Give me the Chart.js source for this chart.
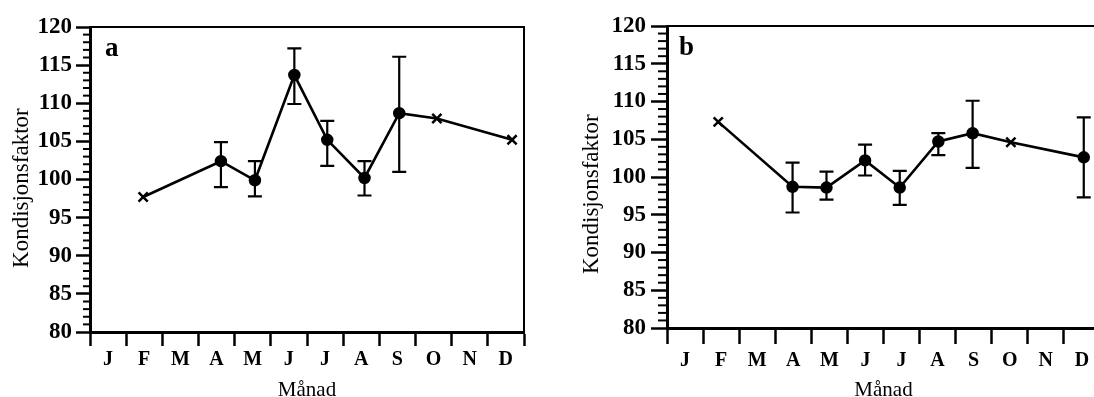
<!DOCTYPE html>
<html>
<head>
<meta charset="utf-8">
<script src="https://cdn.jsdelivr.net/npm/chart.js@4.4.0/dist/chart.umd.min.js"></script>
<style>
  html, body { margin: 0; padding: 0; background: #fff; overflow: hidden; width: 1094px; height: 397px; }
  canvas { position: absolute; top: 0; }
  #chartA { left: 0; }
  #chartB { left: 547px; }
</style>
</head>
<body>
<canvas id="chartA" width="547" height="410"></canvas>
<canvas id="chartB" width="600" height="410"></canvas>
<script>
// month letters on the x axis (tick i sits at start of month i)
var monthLabels = ['J', 'F', 'M', 'A', 'M', 'J', 'J', 'A', 'S', 'O', 'N', 'D'];
var yMin = 80, yMax = 120, yStep = 5;

// panel a: sampling time (in months from 1 Jan), mean, error bar limits
var timeA = [1.47, 3.62, 4.56, 5.65, 6.56, 7.59, 8.55, 9.59, 11.67];
var valuesA = [97.7, 102.4, 99.9, 113.7, 105.2, 100.2, 108.7, 108.0, 105.2];
var highA = [null, 104.9, 102.4, 117.2, 107.7, 102.4, 116.1, null, null];
var lowA = [null, 99.0, 97.8, 109.9, 101.8, 97.9, 101.0, null, null];
var markersA = ['x', 'o', 'o', 'o', 'o', 'o', 'o', 'x', 'x'];

// panel b
var timeB = [1.42, 3.48, 4.42, 5.49, 6.45, 7.52, 8.47, 9.53, 11.55];
var valuesB = [107.3, 98.7, 98.6, 102.2, 98.6, 104.7, 105.8, 104.6, 102.6];
var highB = [null, 101.9, 100.7, 104.3, 100.8, 105.8, 110.1, null, 107.9];
var lowB = [null, 95.3, 97.0, 100.2, 96.3, 102.9, 101.2, null, 97.3];
var markersB = ['x', 'o', 'o', 'o', 'o', 'o', 'o', 'x', 'o'];

var serif = '"Liberation Serif", "Times New Roman", serif';

function buildChart(canvasId, letter, time, values, high, low, markers, g) {

    var panelPlugin = {
        id: 'panel_' + canvasId,
        afterDatasetsDraw: function (chart) {
            var ctx = chart.ctx;
            var xs = chart.scales.x, ys = chart.scales.y;
            var area = chart.chartArea;
            ctx.save();
            ctx.strokeStyle = '#000';
            ctx.lineCap = 'butt';

            // error bars
            ctx.lineWidth = 2.2;
            for (var i = 0; i < time.length; i++) {
                if (high[i] == null) continue;
                var px = xs.getPixelForValue(time[i]);
                var pTop = ys.getPixelForValue(high[i]);
                var pBot = ys.getPixelForValue(low[i]);
                ctx.beginPath();
                ctx.moveTo(px, pTop); ctx.lineTo(px, pBot);
                ctx.moveTo(px - 7, pTop); ctx.lineTo(px + 7, pTop);
                ctx.moveTo(px - 7, pBot); ctx.lineTo(px + 7, pBot);
                ctx.stroke();
            }

            // minor ticks every unit on the y axis
            ctx.lineWidth = 2;
            for (var v = yMin + 1; v < yMax; v++) {
                if (v % yStep === 0) continue;
                var py = ys.getPixelForValue(v);
                ctx.beginPath();
                ctx.moveTo(area.left - g.minorLen, py);
                ctx.lineTo(area.left, py);
                ctx.stroke();
            }

            // frame top and right
            ctx.lineWidth = 2;
            ctx.beginPath();
            ctx.moveTo(area.left, area.top);
            ctx.lineTo(area.right, area.top);
            ctx.lineTo(area.right, area.bottom);
            ctx.stroke();

            // panel letter
            ctx.fillStyle = '#000';
            ctx.font = 'bold 27px ' + serif;
            ctx.textAlign = 'left';
            ctx.textBaseline = 'alphabetic';
            ctx.fillText(letter, area.left + g.letterDx, area.top + 29);
            ctx.restore();
        }
    };

    var points = time.map(function (t, i) { return { x: t, y: values[i] }; });

    return new Chart(document.getElementById(canvasId).getContext('2d'), {
        type: 'line',
        data: {
            datasets: [{
                data: points,
                borderColor: '#000',
                borderWidth: 2.6,
                tension: 0,
                pointStyle: markers.map(function (m) { return m === 'x' ? 'crossRot' : 'circle'; }),
                pointRadius: markers.map(function (m) { return m === 'x' ? 6.5 : 5; }),
                pointBorderWidth: 2.5,
                pointBackgroundColor: '#000',
                pointBorderColor: '#000'
            }]
        },
        options: {
            responsive: false,
            animation: false,
            events: [],
            layout: { padding: { top: g.padTop, right: g.padRight, left: 0, bottom: 0 } },
            plugins: { legend: { display: false }, tooltip: { enabled: false } },
            scales: {
                x: {
                    type: 'linear',
                    min: 0,
                    max: 12,
                    afterFit: function (s) { s.height = g.xHeight; },
                    border: { display: true, color: '#000', width: 3 },
                    grid: { drawOnChartArea: false, drawTicks: true, tickLength: g.xTickLen, tickWidth: 2.5, tickColor: '#000' },
                    ticks: {
                        stepSize: 1,
                        autoSkip: false,
                        maxRotation: 0,
                        labelOffset: 18,
                        padding: g.xTickPad,
                        color: '#000',
                        font: { family: serif, size: 20, weight: 'bold' },
                        callback: function (v) { return monthLabels[v] || ''; }
                    },
                    title: {
                        display: true,
                        text: 'Månad',
                        color: '#000',
                        font: { family: serif, size: 21 },
                        padding: { top: 0, bottom: 7 }
                    }
                },
                y: {
                    min: yMin,
                    max: yMax,
                    afterFit: function (s) { s.width = g.yWidth; },
                    border: { display: true, color: '#000', width: 3 },
                    grid: { drawOnChartArea: false, drawTicks: true, tickLength: g.majorLen, tickWidth: 2.5, tickColor: '#000' },
                    ticks: {
                        stepSize: yStep,
                        padding: g.yTickPad,
                        color: '#000',
                        font: { family: serif, size: 23, weight: 'bold' }
                    },
                    title: {
                        display: true,
                        text: 'Kondisjonsfaktor' + g.titleTail,
                        color: '#000',
                        font: { family: serif, size: 23 },
                        padding: { top: g.yTitlePad, bottom: 0 }
                    }
                }
            }
        },
        plugins: [panelPlugin]
    });
}

buildChart('chartA', 'a', timeA, valuesA, highA, lowA, markersA, {
    padTop: 27, padRight: 23, yWidth: 90, xHeight: 78,
    majorLen: 14, minorLen: 7, yTickPad: 4, xTickLen: 14, xTickPad: 2,
    yTitlePad: 8, titleTail: '   ', letterDx: 15
});

buildChart('chartB', 'b', timeB, valuesB, highB, lowB, markersB, {
    padTop: 26, padRight: 47, yWidth: 120, xHeight: 82,
    majorLen: 16, minorLen: 9, yTickPad: 5, xTickLen: 16, xTickPad: 5,
    yTitlePad: 31, titleTail: '      ', letterDx: 12
});
</script>
</body>
</html>
